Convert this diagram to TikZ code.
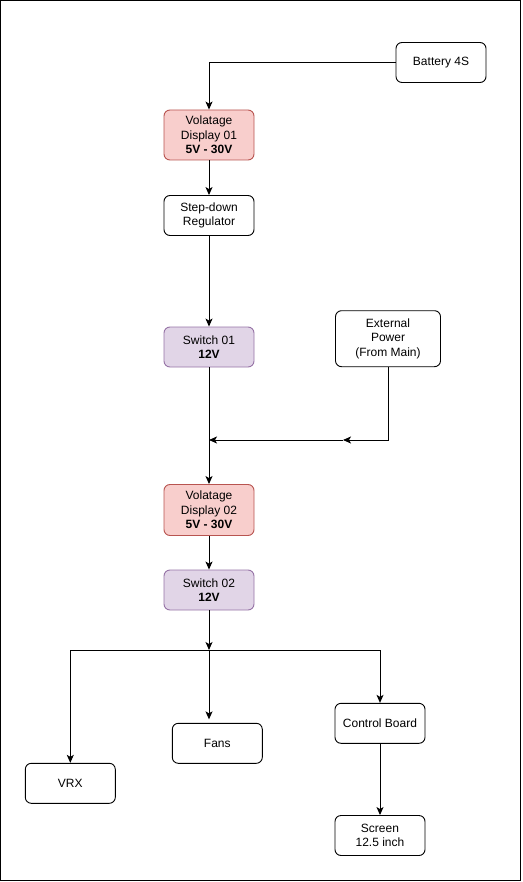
\documentclass[tikz,border=0pt]{standalone}
\usepackage{fontspec}
\setmainfont{Liberation Sans}
\usetikzlibrary{arrows.meta,positioning,calc}
\definecolor{redfill}{HTML}{F8CECC}
\definecolor{redline}{HTML}{B85450}
\definecolor{purfill}{HTML}{E1D5E7}
\definecolor{purline}{HTML}{9673A6}
\tikzset{
  box/.style={draw=black, line width=0.9pt, rounded corners=6pt, align=center,
    font=\fontsize{12}{14.4}\selectfont, inner sep=0pt, fill=white},
  redbox/.style={box, fill=redfill, draw=redline},
  purbox/.style={box, fill=purfill, draw=purline},
  conn/.style={line width=1pt, -{Stealth[length=8pt,width=7pt,inset=2pt]}},
  plain/.style={line width=1pt}
}
\begin{document}
\begin{tikzpicture}[x=1pt,y=-1pt]
\useasboundingbox (0,0) rectangle (522,882);
\draw[line width=1.2pt] (0.8,0.8) rectangle (520.3,880.3);

\node[box, minimum width=90pt, minimum height=40pt] (bat) at (441,62.5) {Battery 4S};
\node[redbox, minimum width=90pt, minimum height=50pt] (vd1) at (209,135) {Volatage\\Display 01\\\textbf{5V - 30V}};
\node[box, minimum width=90pt, minimum height=40pt] (sd) at (209,215.5) {Step-down\\Regulator};
\node[purbox, minimum width=90pt, minimum height=40pt] (sw1) at (209,347) {Switch 01\\\textbf{12V}};
\node[box, minimum width=105pt, minimum height=56pt] (ext) at (388,338.7) {External\\Power\\(From Main)};
\node[redbox, minimum width=90pt, minimum height=51pt] (vd2) at (209,510) {Volatage\\Display 02\\\textbf{5V - 30V}};
\node[purbox, minimum width=90pt, minimum height=40pt] (sw2) at (209,590) {Switch 02\\\textbf{12V}};
\node[box, minimum width=90pt, minimum height=40pt] (vrx) at (70.3,783.3) {VRX};
\node[box, minimum width=90pt, minimum height=40pt] (fans) at (217.3,743.3) {Fans};
\node[box, minimum width=90pt, minimum height=40pt] (cb) at (380,723.3) {Control Board};
\node[box, minimum width=90pt, minimum height=40pt] (scr) at (380,835.5) {Screen\\12.5 inch};

\coordinate (mid) at (343,440);
\coordinate (j1) at (209,440);
\coordinate (j2) at (209,650);

\draw[conn] (bat.west) -| (vd1.north);
\draw[conn] (vd1) -- (sd);
\draw[conn] (sd) -- (sw1);
\draw[conn] (ext.south) |- (mid);
\draw[conn] (mid) -- (j1);
\draw[conn] (sw1) -- (vd2);
\draw[conn] (vd2) -- (sw2);
\draw[conn] (sw2.south) -- (j2);
\draw[conn] (j2) -| (vrx.north);
\draw[conn] (j2) -| (cb.north);
\draw[conn, shorten >=3.5pt] (j2) -- (j2 |- fans.north);
\draw[conn] (cb) -- (scr);
\end{tikzpicture}
\end{document}
